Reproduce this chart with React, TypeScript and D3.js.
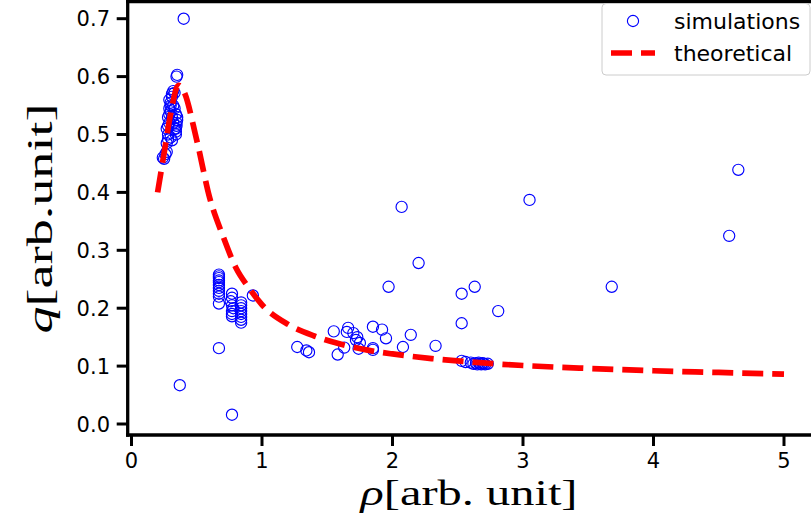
import React from "react";
import * as d3 from "d3";

// theoretical curve
const theoRho = [0.2, 0.25, 0.3, 0.36, 0.4, 0.5, 0.6, 0.7, 0.8, 0.9, 1.0, 1.2, 1.4, 1.6, 1.8, 2.0, 2.3, 2.6, 3.0, 3.5, 4.0, 4.5, 5.0];
const theoQ = [0.4, 0.468, 0.536, 0.585, 0.575, 0.49, 0.39, 0.325, 0.27, 0.235, 0.206, 0.172, 0.152, 0.138, 0.128, 0.121, 0.113, 0.107, 0.101, 0.096, 0.092, 0.089, 0.086];

// simulations
const simRho = [
  // low-density cluster
  0.24, 0.25, 0.26, 0.27, 0.27, 0.28, 0.28, 0.27, 0.28, 0.29, 0.28, 0.29, 0.29, 0.3, 0.3, 0.29, 0.31, 0.31, 0.32, 0.33,
  0.3, 0.31, 0.32, 0.33, 0.34, 0.34, 0.34, 0.345, 0.345, 0.35, 0.35, 0.34, 0.33, 0.32, 0.31, 0.3, 0.345, 0.35,
  // outliers near peak
  0.4, 0.37,
  // columns
  0.67, 0.67, 0.67, 0.67, 0.67, 0.67, 0.67, 0.67, 0.67, 0.67, 0.67,
  0.77, 0.77, 0.76, 0.77, 0.78, 0.77, 0.77, 0.77,
  0.84, 0.84, 0.84, 0.84, 0.84, 0.84, 0.84, 0.84,
  0.93, 0.67, 0.77,
  // mid cluster
  1.27, 1.34, 1.36, 1.55, 1.58, 1.63, 1.65, 1.66, 1.7, 1.73, 1.75, 1.74, 1.72, 1.85, 1.85, 1.85, 1.92, 1.95, 2.08, 2.14, 2.33,
  // high-density cluster
  2.53, 2.56, 2.6, 2.62, 2.64, 2.65, 2.66, 2.67, 2.68, 2.69, 2.7, 2.71, 2.73,
  // scattered
  2.07, 3.05, 2.2, 1.97, 2.53, 2.63, 2.53, 2.81, 3.68, 4.58, 4.65,
];
const simQ = [
  0.46, 0.458, 0.466, 0.47, 0.485, 0.492, 0.5, 0.51, 0.515, 0.52, 0.53, 0.535, 0.545, 0.55, 0.555, 0.56, 0.565, 0.57, 0.575, 0.572,
  0.54, 0.53, 0.52, 0.51, 0.5, 0.505, 0.51, 0.515, 0.52, 0.525, 0.53, 0.535, 0.545, 0.55, 0.49, 0.495, 0.6, 0.603,
  0.7, 0.067,
  0.258, 0.255, 0.252, 0.248, 0.245, 0.24, 0.235, 0.23, 0.225, 0.22, 0.208,
  0.225, 0.218, 0.212, 0.205, 0.2, 0.195, 0.19, 0.186,
  0.21, 0.205, 0.2, 0.195, 0.19, 0.185, 0.18, 0.175,
  0.222, 0.131, 0.016,
  0.133, 0.127, 0.124, 0.16, 0.12, 0.132, 0.159, 0.166, 0.157, 0.15, 0.14, 0.13, 0.145, 0.168, 0.131, 0.128, 0.163, 0.148, 0.133, 0.154, 0.135,
  0.109, 0.107, 0.106, 0.104, 0.105, 0.103, 0.106, 0.104, 0.103, 0.105, 0.104, 0.103, 0.104,
  0.375, 0.387, 0.278, 0.237, 0.225, 0.237, 0.174, 0.195, 0.237, 0.325, 0.439,
];

const xTicks = [0, 1, 2, 3, 4, 5];
const yTicks = [0.0, 0.1, 0.2, 0.3, 0.4, 0.5, 0.6, 0.7];

export default function App() {
  const W = 811, H = 525;
  const x = d3.scaleLinear().domain([0, 5]).range([131.5, 784]);
  const y = d3.scaleLinear().domain([0, 0.7]).range([424, 18.7]);
  const left = 127.7, right = 816, top = 1.5, bottom = 435;

  const theo = theoRho.map((r, i) => [r, theoQ[i]] as [number, number]);
  const line = d3.line<[number, number]>().x(d => x(d[0])).y(d => y(d[1])).curve(d3.curveMonotoneX);
  const sims = simRho.map((r, i) => [r, simQ[i]]);

  const tickFont = "DejaVu Sans";
  const tickSize = 21;
  return (
    <svg width={W} height={H} style={{ position: "absolute", left: 0, top: 0, background: "#fff" }}>
      <rect x={0} y={0} width={W} height={H} fill="#fff" />
      {sims.map((d, i) => (
        <circle key={i} cx={x(d[0])} cy={y(d[1])} r={5.6} fill="none" stroke="#0000ff" strokeWidth={1.15} />
      ))}
      <path d={line(theo) || ""} fill="none" stroke="#ff0000" strokeWidth={5.7} strokeDasharray="21 9" />
      {/* spines */}
      <g stroke="#000" strokeWidth={3.3} strokeLinecap="square">
        <line x1={left} y1={top} x2={left} y2={bottom} />
        <line x1={left} y1={bottom} x2={right} y2={bottom} />
        <line x1={left} y1={top} x2={right} y2={top} />
      </g>
      {/* x ticks */}
      {xTicks.map(t => (
        <g key={"x" + t}>
          <line x1={x(t)} x2={x(t)} y1={bottom} y2={bottom + 11} stroke="#000" strokeWidth={3} />
          <text x={x(t)} y={467.5} textAnchor="middle" fontFamily={tickFont} fontSize={tickSize} fill="#000">{t}</text>
        </g>
      ))}
      {/* y ticks */}
      {yTicks.map(t => (
        <g key={"y" + t}>
          <line x1={left} x2={left - 11} y1={y(t)} y2={y(t)} stroke="#000" strokeWidth={3} />
          <text x={110} y={y(t)} dy="0.36em" textAnchor="end" fontFamily={tickFont} fontSize={tickSize} fill="#000">{t.toFixed(1)}</text>
        </g>
      ))}
      {/* axis labels */}
      <text x={469} y={505} textAnchor="middle" fontFamily="Liberation Serif" fontSize={36} fill="#000" textLength={217} lengthAdjust="spacingAndGlyphs">
        <tspan fontStyle="italic">ρ</tspan>[arb. unit]
      </text>
      <text transform="translate(52,218.5) rotate(-90)" textAnchor="middle" fontFamily="Liberation Serif" fontSize={36} fill="#000" textLength={230} lengthAdjust="spacingAndGlyphs">
        <tspan fontStyle="italic">q</tspan>[arb.unit]
      </text>
      {/* legend */}
      <rect x={602} y={3.5} width={208} height={71.5} rx={4} fill="#fff" fillOpacity={0.8} stroke="#cccccc" strokeWidth={1} />
      <circle cx={633} cy={21} r={5.6} fill="none" stroke="#0000ff" strokeWidth={1.15} />
      <text x={674} y={21} dy="0.36em" fontFamily={tickFont} fontSize={22} fill="#000">simulations</text>
      <line x1={611} x2={655} y1={53} y2={53} stroke="#ff0000" strokeWidth={5.7} strokeDasharray="21 9" />
      <text x={674} y={53} dy="0.36em" fontFamily={tickFont} fontSize={22} fill="#000">theoretical</text>
    </svg>
  );
}
